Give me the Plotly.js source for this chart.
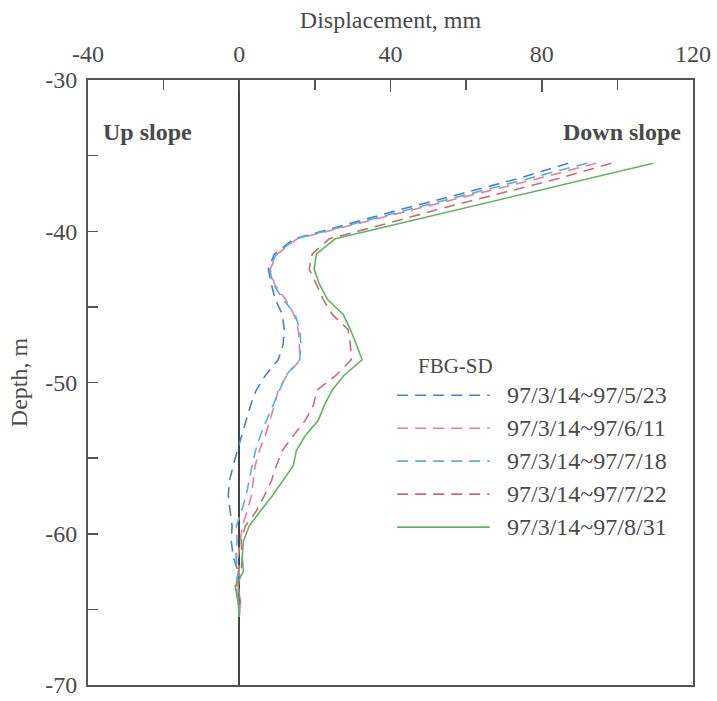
<!DOCTYPE html>
<html>
<head>
<meta charset="utf-8">
<script src="https://cdn.plot.ly/plotly-3.0.1.min.js"></script>
<style>
  html, body { margin: 0; padding: 0; background: #fff; }
  #chart { width: 717px; height: 701px; }
</style>
</head>
<body>
<div id="chart"></div>
<script>
// Depth of each reading along the inclinometer casing (m)
const depth = [-35.5, -36.5, -37.5, -38.5, -39.5, -40.5, -41.5, -42.5, -43.5, -44.5,
               -45.5, -46.5, -47.5, -48.5, -49.5, -50.5, -51.5, -52.5, -53.5, -54.5,
               -55.5, -56.5, -57.5, -58.5, -59.5, -60.5, -61.5, -62.5, -63.5, -64.5, -65.5];

// Cumulative displacement (mm) relative to 97/3/14
const disp0523 = [87.0, 74.0, 59.0, 43.6, 29.1, 14.5, 9.3, 7.7, 8.5, 9.5,
                  11.4, 11.9, 11.6, 10.3, 7.0, 4.5, 3.0, 1.8, 0.5, -0.5,
                  -1.6, -2.6, -2.9, -2.4, -1.9, -2.1, -1.6, -0.3, -0.8, -0.3, 0.0];
const disp0611 = [94.4, 79.3, 63.2, 47.3, 31.2, 15.3, 10.1, 8.2, 9.3, 12.2,
                  14.5, 15.6, 15.9, 16.1, 12.7, 10.3, 9.3, 8.2, 6.9, 5.3,
                  4.2, 3.7, 3.2, 2.1, 0.8, 0.3, -0.3, 0.0, -0.3, 0.3, 0.0];
const disp0718 = [92.0, 77.0, 61.5, 45.8, 30.3, 15.0, 9.8, 8.0, 9.0, 11.6,
                  14.8, 16.0, 16.3, 16.0, 12.4, 10.6, 8.8, 7.2, 5.6, 4.3,
                  3.4, 2.6, 1.8, 0.6, -0.8, -0.6, -0.9, -0.3, -0.8, -0.2, 0.0];
const disp0722 = [98.4, 84.6, 69.0, 53.4, 38.9, 23.8, 19.3, 18.5, 20.4, 22.2,
                  24.6, 28.8, 29.4, 29.6, 25.7, 20.6, 19.6, 17.5, 14.3, 11.4,
                  9.8, 8.5, 6.6, 4.5, 1.6, 0.5, 0.8, 0.5, -0.3, 0.3, 0.0];
const disp0831 = [109.5, 92.6, 75.6, 58.5, 41.5, 25.4, 20.4, 19.8, 21.2, 23.3,
                  27.5, 29.4, 31.0, 32.5, 27.8, 24.6, 22.5, 20.9, 17.5, 15.1,
                  14.3, 11.6, 8.7, 5.6, 2.6, 1.1, 0.8, 1.1, -1.1, -0.3, 0.0];

const seriesNames = ['97/3/14~97/5/23', '97/3/14~97/6/11', '97/3/14~97/7/18',
                     '97/3/14~97/7/22', '97/3/14~97/8/31'];
const legendTitle = 'FBG-SD';

const xTicks = [-40, 0, 40, 80, 120];
const yTicks = [-70, -60, -50, -40, -30];

const seriesValues = [disp0523, disp0611, disp0718, disp0722, disp0831];
const colors = ['#4d7fd0', '#e8828f', '#5aaee8', '#c96c78', '#62b462'];
const dashes = ['11px,7px', '11px,7px', '11px,7px', '11px,7px', 'solid'];

const FONT = "'Liberation Serif', 'Times New Roman', serif";
const INK = '#4a4a4a';

const traces = seriesValues.map((vals, i) => ({
  type: 'scatter',
  mode: 'lines',
  x: vals,
  y: depth,
  name: seriesNames[i],
  line: { color: colors[i], width: 1.6, dash: dashes[i] },
  showlegend: false,
  hoverinfo: 'x+y+name'
}));

// Hand-laid legend block (long line samples)
const L = { x0: 0.511, x1: 0.664, xt: 0.689, yTitle: 0.527, y0: 0.479, step: 0.0545 };
const shapes = [];
const annotations = [];
annotations.push({
  xref: 'paper', yref: 'paper', x: 0.608, y: L.yTitle, text: legendTitle,
  showarrow: false, xanchor: 'center', yanchor: 'middle',
  font: { family: FONT, size: 21, color: INK }
});
seriesNames.forEach((nm, i) => {
  const yy = L.y0 - i * L.step;
  shapes.push({
    type: 'line', xref: 'paper', yref: 'paper', x0: L.x0, x1: L.x1, y0: yy, y1: yy,
    line: { color: colors[i], width: 1.6, dash: dashes[i] }
  });
  annotations.push({
    xref: 'paper', yref: 'paper', x: L.xt, y: yy, text: nm,
    showarrow: false, xanchor: 'left', yanchor: 'middle',
    font: { family: FONT, size: 24, color: INK }
  });
});
annotations.push({
  xref: 'paper', yref: 'paper', x: 0.099, y: 0.914, text: '<b>Up slope</b>',
  showarrow: false, xanchor: 'center', yanchor: 'middle',
  font: { family: FONT, size: 24, color: INK }
});
annotations.push({
  xref: 'paper', yref: 'paper', x: 0.883, y: 0.914, text: '<b>Down slope</b>',
  showarrow: false, xanchor: 'center', yanchor: 'middle',
  font: { family: FONT, size: 24, color: INK }
});

const layout = {
  width: 717, height: 701,
  margin: { l: 88, r: 24, t: 80, b: 16 },
  paper_bgcolor: '#fff', plot_bgcolor: '#fff',
  font: { family: FONT, size: 24, color: INK },
  showlegend: false,
  xaxis: {
    side: 'top', range: [-40, 120], tickvals: xTicks, ticktext: xTicks.map(String),
    ticks: 'inside', ticklen: 12, tickwidth: 1.5, tickcolor: '#555',
    minor: { dtick: 20, ticks: 'inside', ticklen: 10, tickwidth: 1.5, tickcolor: '#555' },
    showline: true, mirror: true, linecolor: '#555', linewidth: 2,
    showgrid: false, zeroline: true, zerolinecolor: '#444', zerolinewidth: 1.6,
    ticklabelstandoff: 6,
    tickfont: { family: FONT, size: 24, color: INK },
    title: { text: 'Displacement, mm', font: { family: FONT, size: 24, color: INK }, standoff: 6 }
  },
  yaxis: {
    range: [-70, -30], tickvals: yTicks, ticktext: yTicks.map(String),
    ticks: 'inside', ticklen: 10, tickwidth: 1.5, tickcolor: '#555',
    minor: { dtick: 5, ticks: 'inside', ticklen: 10, tickwidth: 1.5, tickcolor: '#555' },
    showline: true, mirror: true, linecolor: '#555', linewidth: 2,
    showgrid: false, zeroline: false,
    ticklabelstandoff: 4,
    tickfont: { family: FONT, size: 24, color: INK },
    title: { text: 'Depth, m', font: { family: FONT, size: 24, color: INK }, standoff: 11 }
  },
  shapes: shapes,
  annotations: annotations
};

Plotly.newPlot('chart', traces, layout, { displayModeBar: false, staticPlot: true });
</script>
</body>
</html>
